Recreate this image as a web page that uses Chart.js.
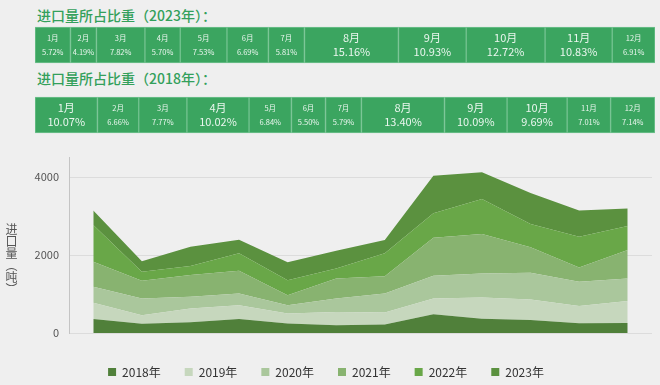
<!DOCTYPE html>
<html>
<head>
<meta charset="utf-8">
<script src="https://cdn.jsdelivr.net/npm/chart.js@4.4.1/dist/chart.umd.min.js"></script>
<style>
  body { margin: 0; background: #efefef; font-family: "Noto Sans CJK SC", sans-serif; }
  #wrap { position: relative; width: 660px; height: 385px; overflow: hidden; }
  .title { position: absolute; left: 37px; font-size: 14px; line-height: 14px; color: #33a05b; font-weight: 500; }
  #shares { position: absolute; left: 0; top: 10px; }
  #area { position: absolute; left: 0; top: 141px; }
  #ylabel { position: absolute; left: 5px; top: 223px; writing-mode: vertical-rl; font-size: 12px; line-height: 12px; color: #555; }
</style>
</head>
<body>
<div id="wrap">
  <div class="title" style="top:8px">进口量所占比重（2023年）：</div>
  <div class="title" style="top:71px">进口量所占比重（2018年）：</div>
  <canvas id="shares" width="660" height="140"></canvas>
  <canvas id="area" width="660" height="247"></canvas>
  <div id="ylabel">进口量（吨）</div>
</div>
<script>
var months = ['1月', '2月', '3月', '4月', '5月', '6月', '7月', '8月', '9月', '10月', '11月', '12月'];
var years = ['2018年', '2019年', '2020年', '2021年', '2022年', '2023年'];

// share of each month in the year's imports (%)
var share2023 = [5.72, 4.19, 7.82, 5.70, 7.53, 6.69, 5.81, 15.16, 10.93, 12.72, 10.83, 6.91];
var share2018 = [10.07, 6.66, 7.77, 10.02, 6.84, 5.50, 5.79, 13.40, 10.09, 9.69, 7.01, 7.14];

// monthly import volume (t), stacked by year
var s2018 = [358, 237, 276, 356, 243, 196, 215, 478, 365, 335, 253, 255];
var s2019 = [420, 219, 352, 357, 256, 345, 310, 407, 546, 525, 442, 569];
var s2020 = [406, 429, 299, 301, 214, 344, 489, 582, 618, 684, 618, 576];
var s2021 = [644, 454, 558, 582, 257, 515, 445, 978, 1011, 654, 370, 729];
var s2022 = [944, 231, 232, 447, 386, 257, 584, 628, 901, 600, 788, 617];
var s2023 = [370, 270, 497, 350, 460, 450, 345, 960, 685, 795, 675, 445];
var yTicks = [0, 2000, 4000];

var series = [s2018, s2019, s2020, s2021, s2022, s2023];
var colors = ['#50803a', '#c6d7bd', '#aac79c', '#88b370', '#69a748', '#5b913f'];
var family = '"Noto Sans CJK SC", sans-serif';

// month / percent text inside each box
const boxLabels = {
  id: 'boxLabels',
  afterDatasetsDraw(chart) {
    const ctx = chart.ctx;
    ctx.save();
    ctx.fillStyle = '#eaf6ee';
    ctx.textAlign = 'center';
    ctx.textBaseline = 'middle';
    chart.data.datasets.forEach((ds, i) => {
      chart.getDatasetMeta(i).data.forEach((bar, j) => {
        let w = Math.abs(bar.x - bar.base);
        let big = w > 55;
        ctx.font = (big ? 11 : 7.5) + 'px ' + family;
        let cx = (bar.x + bar.base) / 2;
        ctx.fillText(ds.label, cx, bar.y - 7);
        ctx.fillText(ds.data[j].toFixed(2) + '%', cx, bar.y + 7);
      });
    });
    ctx.restore();
  }
};

new Chart(document.getElementById('shares'), {
  type: 'bar',
  data: {
    labels: ['2023年', '2018年'],
    datasets: months.map((m, i) => ({
      label: m,
      data: [share2023[i], share2018[i]],
      backgroundColor: '#3ba560',
      borderColor: '#72c28f',
      borderWidth: 1,
      borderSkipped: false,
      barThickness: 36
    }))
  },
  options: {
    indexAxis: 'y',
    responsive: false,
    animation: false,
    layout: { padding: { left: 35, right: 5, top: 0, bottom: 0 } },
    plugins: { legend: { display: false }, tooltip: { enabled: false } },
    scales: {
      x: { stacked: true, min: 0, max: 100, display: false },
      y: { stacked: true, display: false }
    }
  },
  plugins: [boxLabels]
});

new Chart(document.getElementById('area'), {
  type: 'line',
  data: {
    labels: months,
    datasets: years.map((y, i) => ({
      label: y,
      data: series[i],
      backgroundColor: colors[i],
      borderColor: colors[i],
      borderWidth: 0,
      pointRadius: 0,
      tension: 0,
      fill: i === 0 ? 'origin' : '-1'
    }))
  },
  options: {
    responsive: false,
    animation: false,
    layout: { padding: { top: 13, right: 8, left: 0, bottom: 0 } },
    plugins: {
      legend: {
        position: 'bottom',
        labels: { boxWidth: 8, boxHeight: 8, padding: 24, color: '#333', font: { size: 12, family: family } }
      },
      tooltip: { enabled: false }
    },
    scales: {
      x: {
        offset: true,
        grid: { display: false },
        border: { display: false },
        afterFit: s => { s.height = 9; },
        ticks: { color: '#555', font: { size: 12, family: family } }
      },
      y: {
        stacked: true,
        min: 0,
        max: 4500,
        afterBuildTicks: s => { s.ticks = yTicks.map(v => ({ value: v })); },
        afterFit: s => { s.width = 69; },
        grid: { color: '#dcdcdc', drawTicks: false },
        border: { color: '#c4c4c4' },
        ticks: { padding: 10, color: '#555', font: { size: 11, family: family }, callback: v => String(v) }
      }
    }
  }
});
</script>
</body>
</html>
